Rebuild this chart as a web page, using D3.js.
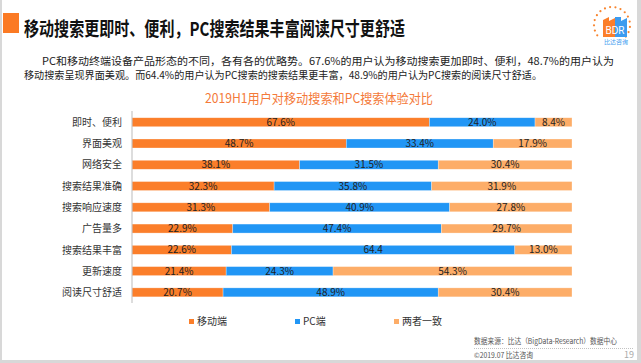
<!DOCTYPE html>
<html>
<head>
<meta charset="utf-8">
<script src="https://cdn.jsdelivr.net/npm/d3@7"></script>
<style>
  body { margin: 0; background: #fff; }
  svg { display: block; font-family: "Noto Sans CJK SC", "Noto Sans", sans-serif; }
</style>
</head>
<body>
<div id="vis"></div>
<script>
const FRAME_WIDTH = 641;
const FRAME_HEIGHT = 363;

// data
const categories = ["即时、便利", "界面美观", "网络安全", "搜索结果准确", "搜索响应速度",
                    "广告量多", "搜索结果丰富", "更新速度", "阅读尺寸舒适"];
const mobile = [67.6, 48.7, 38.1, 32.3, 31.3, 22.9, 22.6, 21.4, 20.7];
const pc     = [24.0, 33.4, 31.5, 35.8, 40.9, 47.4, 64.4, 24.3, 48.9];
const both   = [8.4, 17.9, 30.4, 31.9, 27.8, 29.7, 13.0, 54.3, 30.4];
const pcLabels = ["24.0%", "33.4%", "31.5%", "35.8%", "40.9%", "47.4%", "64.4", "24.3%", "48.9%"];
const seriesNames = ["移动端", "PC端", "两者一致"];
const COLORS = ["#FB7E2A", "#2196F5", "#FDAD68"];

const svg = d3.select("#vis").append("svg")
  .attr("width", FRAME_WIDTH)
  .attr("height", FRAME_HEIGHT);

// page frame
svg.append("rect").attr("x", 0).attr("y", 0).attr("width", 2).attr("height", FRAME_HEIGHT).attr("fill", "#d8d8d8");
svg.append("rect").attr("x", 637).attr("y", 0).attr("width", 4).attr("height", FRAME_HEIGHT).attr("fill", "#d8d8d8");
svg.append("rect").attr("x", 0).attr("y", 360).attr("width", FRAME_WIDTH).attr("height", 3).attr("fill", "#d8d8d8");

// header
svg.append("rect").attr("x", 3).attr("y", 13).attr("width", 16).attr("height", 20).attr("fill", "#FB7A24");
svg.append("text").attr("x", 24).attr("y", 36)
  .attr("font-size", 19).attr("font-weight", "bold").attr("fill", "#111")
  .attr("textLength", 381).attr("lengthAdjust", "spacingAndGlyphs")
  .text("移动搜索更即时、便利，PC搜索结果丰富阅读尺寸更舒适");

// logo
const logo = svg.append("g");
d3.range(-40, 230, 17).forEach(a => {
  const r = a * Math.PI / 180;
  logo.append("circle")
    .attr("cx", 612 + 18 * Math.cos(r))
    .attr("cy", 25 - 18 * Math.sin(r))
    .attr("r", 1.1).attr("fill", "#F8852F");
});
logo.append("path").attr("d", "M603,37 L603,20 L609,17 L609,21 L615,18 L615,37 Z").attr("fill", "#FB7E2A");
logo.append("path").attr("d", "M615,37 L615,17 L621,17 L621,21 L627,18 L627,37 Z").attr("fill", "#3C9BEF");
logo.append("text").attr("x", 615).attr("y", 34).attr("text-anchor", "middle")
  .attr("font-family", "Roboto, sans-serif").attr("font-size", 10).attr("fill", "#fff").text("BDR");
logo.append("text").attr("x", 616).attr("y", 44).attr("text-anchor", "middle")
  .attr("font-size", 6).attr("fill", "#3C9BEF").text("比达咨询");

// paragraph
svg.append("text").attr("x", 42).attr("y", 64.5)
  .attr("font-size", 10.5).attr("fill", "#222")
  .attr("textLength", 572).attr("lengthAdjust", "spacingAndGlyphs")
  .text("PC和移动终端设备产品形态的不同，各有各的优略势。67.6%的用户认为移动搜索更加即时、便利，48.7%的用户认为");
svg.append("text").attr("x", 24).attr("y", 78.5)
  .attr("font-size", 10.5).attr("fill", "#222")
  .attr("textLength", 518).attr("lengthAdjust", "spacingAndGlyphs")
  .text("移动搜索呈现界面美观。而64.4%的用户认为PC搜索的搜索结果更丰富，48.9%的用户认为PC搜索的阅读尺寸舒适。");

// chart title
svg.append("text").attr("x", 319).attr("y", 102.5).attr("text-anchor", "middle")
  .attr("font-size", 13).attr("fill", "#F47A3A")
  .attr("textLength", 228).attr("lengthAdjust", "spacingAndGlyphs")
  .text("2019H1用户对移动搜索和PC搜索体验对比");

// scales
const x = d3.scaleLinear().domain([0, 100]).range([132, 572]);
const y = d3.scalePoint().domain(categories).range([111.6, 303]).padding(0.5);
const BAR_H = 9;

const rows = categories.map((c, i) => {
  const vals = [mobile[i], pc[i], both[i]];
  const labels = [mobile[i].toFixed(1) + "%", pcLabels[i], both[i].toFixed(1) + "%"];
  let acc = 0;
  return vals.map((v, k) => {
    const seg = {cat: c, k: k, x0: acc, x1: acc + v, label: labels[k]};
    acc += v;
    return seg;
  });
}).flat();

svg.append("g").selectAll("rect")
  .data(rows)
  .join("rect")
    .attr("x", d => x(d.x0))
    .attr("y", d => y(d.cat) - BAR_H / 2)
    .attr("width", d => x(d.x1) - x(d.x0))
    .attr("height", BAR_H)
    .attr("fill", d => COLORS[d.k])
    .attr("stroke", "#fff")
    .attr("stroke-opacity", 0.5)
    .attr("stroke-width", 0.6);

svg.append("g").selectAll("text")
  .data(rows)
  .join("text")
    .attr("x", d => (x(d.x0) + x(d.x1)) / 2)
    .attr("y", d => y(d.cat))
    .attr("dy", "0.36em")
    .attr("text-anchor", "middle")
    .attr("font-size", 10)
    .attr("fill", "#222")
    .text(d => d.label);

// category axis
const yAxis = svg.append("g")
  .attr("transform", "translate(132,0)")
  .call(d3.axisLeft(y).tickSize(0).tickPadding(10));
yAxis.select(".domain").attr("stroke", "#bbb").attr("d", "M0,111V303");
yAxis.selectAll("text")
  .attr("font-family", "'Noto Sans CJK SC', sans-serif")
  .attr("font-size", 10).attr("fill", "#333");

// legend
const legendX = [189, 295, 394];
const legend = svg.append("g").selectAll("g")
  .data(seriesNames)
  .join("g")
    .attr("transform", (d, i) => `translate(${legendX[i]},321.5)`);
legend.append("rect").attr("x", 0).attr("y", -2.5).attr("width", 5).attr("height", 5)
  .attr("fill", (d, i) => COLORS[i]);
legend.append("text").attr("x", 8).attr("dy", "0.36em")
  .attr("font-size", 10).attr("fill", "#333").text(d => d);

// footer
svg.append("text").attr("x", 474).attr("y", 343.5)
  .attr("font-size", 7.5).attr("fill", "#555")
  .attr("textLength", 143).attr("lengthAdjust", "spacingAndGlyphs")
  .text("数据来源：比达（BigData-Research）数据中心");
svg.append("line").attr("x1", 474).attr("x2", 634).attr("y1", 348.5).attr("y2", 348.5)
  .attr("stroke", "#999").attr("stroke-width", 0.6).attr("stroke-dasharray", "1,1");
svg.append("text").attr("x", 474).attr("y", 357.5)
  .attr("font-size", 7.5).attr("fill", "#555")
  .attr("textLength", 59).attr("lengthAdjust", "spacingAndGlyphs")
  .text("©2019.07 比达咨询");
svg.append("text").attr("x", 634).attr("y", 357.5).attr("text-anchor", "end")
  .attr("font-size", 9).attr("fill", "#aaa").text("19");
</script>
</body>
</html>
